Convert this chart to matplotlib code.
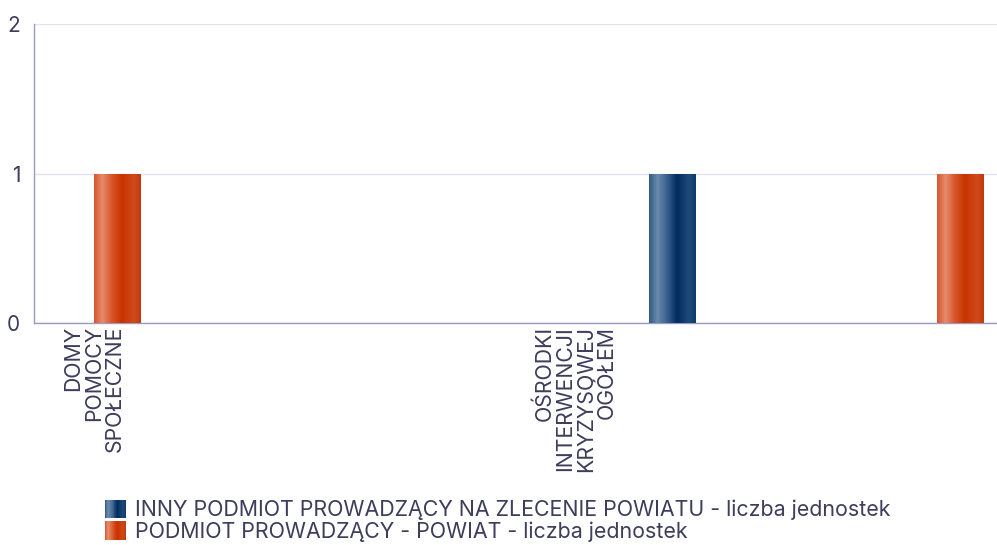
import numpy as np
import matplotlib
matplotlib.use("Agg")
import matplotlib.pyplot as plt
from matplotlib.colors import LinearSegmentedColormap
from matplotlib.patches import Patch, Rectangle
from matplotlib.legend_handler import HandlerBase

plt.rcParams['font.family'] = ['Inter', 'DejaVu Sans']

# data
categories = ["DOMY\nPOMOCY\nSPOŁECZNE", "", "", "",
              "OŚRODKI\nINTERWENCJI\nKRYZYSOWEJ\nOGÓŁEM", "", "", ""]
series_names = ["INNY PODMIOT PROWADZĄCY NA ZLECENIE POWIATU - liczba jednostek",
                "PODMIOT PROWADZĄCY - POWIAT - liczba jednostek"]
inny = [0, 0, 0, 0, 0, 1, 0, 0]
powiat = [1, 0, 0, 0, 0, 0, 0, 1]
y_ticks = [0, 1, 2]

text_col = "#3d3d5c"
axis_col = "#9b9bc2"
grid_col = "#e2e2ee"

# cylinder-like shading stops for each series
grad_blue = ["#2f5a88", "#6b8aab", "#3a6291", "#002b5c", "#1f4b7b", "#0e3a6a"]
grad_orange = ["#d8552c", "#e58b6d", "#d8562a", "#c83300", "#d04a1a", "#c03a10"]
stops = [0.0, 0.18, 0.38, 0.6, 0.85, 1.0]
cmap_blue = LinearSegmentedColormap.from_list("gb", list(zip(stops, grad_blue)))
cmap_orange = LinearSegmentedColormap.from_list("go", list(zip(stops, grad_orange)))

fig = plt.figure(figsize=(9.97, 5.45), dpi=100)
ax = fig.add_axes([34 / 997, 1 - 323 / 545, 963 / 997, 299 / 545])

x = np.arange(len(categories))
w = 0.39
b1 = ax.bar(x - w / 2, inny, w, color=grad_blue[3], zorder=2)
b2 = ax.bar(x + w / 2, powiat, w, color=grad_orange[3], zorder=2)


def shade(bars, cmap):
    grad = np.linspace(0, 1, 256).reshape(1, -1)
    for b in bars:
        if b.get_height() <= 0:
            continue
        x0, y0 = b.get_x(), b.get_y()
        im = ax.imshow(grad, cmap=cmap, aspect="auto", zorder=3,
                       extent=(x0, x0 + b.get_width(), y0, y0 + b.get_height()))
        im.set_clip_path(b)


shade(b1, cmap_blue)
shade(b2, cmap_orange)

ax.set_xlim(-0.5, len(categories) - 0.5)
ax.set_ylim(0, 2)
ax.set_yticks(y_ticks)
ax.set_yticklabels([str(t) for t in y_ticks], fontsize=15, color=text_col)
ax.tick_params(axis="y", length=0, pad=10)
ax.grid(axis="y", color=grid_col, linewidth=1, zorder=0)
ax.set_axisbelow(True)

ax.set_xticks(x)
ax.set_xticklabels([])
ax.tick_params(axis="x", length=0)
for i, lab in enumerate(categories):
    if lab:
        ax.text(i, -0.02, lab, rotation=90, ha="center", va="top",
                multialignment="right", fontsize=15.3, color=text_col,
                linespacing=1.04, transform=ax.transData, clip_on=False)

for s in ["top", "right"]:
    ax.spines[s].set_visible(False)
ax.spines["left"].set_color(axis_col)
ax.spines["bottom"].set_color(axis_col)
ax.spines["left"].set_linewidth(1)
ax.spines["bottom"].set_linewidth(1)


# legend swatch with the same shading as the bars
class GradHandler(HandlerBase):
    def create_artists(self, legend, orig_handle, xdescent, ydescent,
                       width, height, fontsize, trans):
        cmap = orig_handle.cmap
        n = 24
        arts = []
        for k in range(n):
            r = Rectangle((-xdescent + width * k / n, -ydescent), width / n + 0.05, height,
                          facecolor=cmap((k + 0.5) / n), edgecolor="none", transform=trans)
            arts.append(r)
        return arts


handles = [Patch(facecolor=grad_blue[3]), Patch(facecolor=grad_orange[3])]
handles[0].cmap = cmap_blue
handles[1].cmap = cmap_orange
leg = fig.legend(handles, series_names, loc="upper left",
                 bbox_to_anchor=(94 / 997, 1 - 489 / 545), frameon=False,
                 fontsize=15.4, handlelength=1.0, handleheight=0.95,
                 handletextpad=0.4, labelspacing=0.05, borderpad=0,
                 handler_map={Patch: GradHandler()})
for t in leg.get_texts():
    t.set_color(text_col)

fig.savefig("out.png", dpi=100)
